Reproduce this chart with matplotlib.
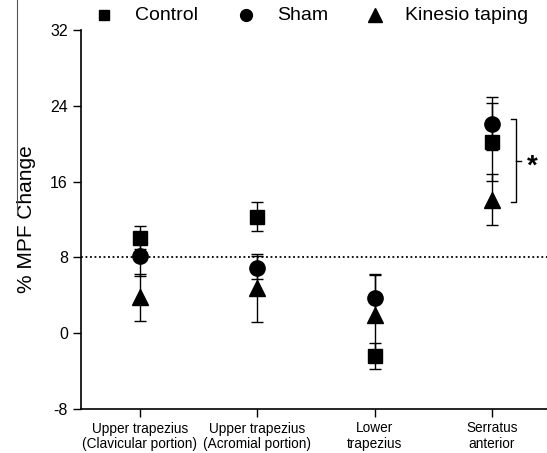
import matplotlib
matplotlib.use("Agg")
import matplotlib.pyplot as plt
from matplotlib.lines import Line2D
import numpy as np

plt.rcParams['font.family'] = ['Liberation Sans', 'DejaVu Sans']

categories = ["Upper trapezius\n(Clavicular portion)", "Upper trapezius\n(Acromial portion)",
              "Lower\ntrapezius", "Serratus\nanterior"]
groups = ["Control", "Sham", "Kinesio taping"]
control_mean = [10.1, 12.3, -2.4, 20.2]
control_sd = [1.2, 1.5, 1.4, 4.1]
sham_mean = [8.1, 6.9, 3.7, 22.1]
sham_sd = [2.1, 1.2, 2.5, 2.8]
kinesio_mean = [3.8, 4.8, 1.9, 14.1]
kinesio_sd = [2.5, 3.6, 4.2, 2.7]
yticks = [-8, 0, 8, 16, 24, 32]
ref_line = 8

W, H = 547, 453
fig = plt.figure(figsize=(W/100, H/100), dpi=100)
ax = fig.add_axes([81/W, 1-409/H, 1-81/W, (409-30)/H])

x = np.arange(len(categories))
series = [(control_mean, control_sd, 's', 10), (sham_mean, sham_sd, 'o', 11), (kinesio_mean, kinesio_sd, '^', 12)]
for (m, s, mk, ms), g in zip(series, groups):
    ax.errorbar(x, m, yerr=s, fmt=mk, color='black', ms=ms, ecolor='black',
                elinewidth=1, capsize=4, capthick=1, zorder=3, label=g)

ax.axhline(ref_line, color='black', linestyle=(0, (1, 1.5)), linewidth=1.3, zorder=1)

# significance bracket
bx0, bx1, bx2 = 3.166, 3.209, 3.251
ytop, ybot = 22.6, 13.8
ax.plot([bx0, bx1, bx1, bx0], [ytop, ytop, ybot, ybot], color='black', lw=1, clip_on=False)
ax.plot([bx1, bx2], [(ytop+ybot)/2]*2, color='black', lw=1, clip_on=False)
ax.text(3.345, (ytop+ybot)/2 - 0.6, "*", fontsize=20, ha='center', va='center', fontweight='bold')

ax.set_xlim(-0.502, 3.47)
ax.set_ylim(-8, 32)
ax.set_yticks(yticks)
ax.set_yticklabels([str(t) for t in yticks], fontsize=11.5)
ax.set_xticks(x)
ax.set_xticklabels(categories, fontsize=9.8, linespacing=1.1)
ax.tick_params(axis='both', direction='out', length=6, width=1, color='black')
ax.tick_params(axis='x', pad=3)
for sp in ['top', 'right']:
    ax.spines[sp].set_visible(False)
for sp in ['left', 'bottom']:
    ax.spines[sp].set_linewidth(1.2)
ax.set_ylabel("% MPF Change", fontsize=15, labelpad=10)

# legend (manual layout along the top)
leg_y = 1 - 15/H
leg_items = [('s', 7, 104, 135), ('o', 8.5, 246, 277), ('^', 9.5, 375, 405)]
for (mk, ms, mx, tx), g in zip(leg_items, groups):
    fig.add_artist(Line2D([mx/W], [leg_y], marker=mk, ms=ms, color='black', linestyle='none'))
    fig.text(tx/W, leg_y, g, fontsize=14, ha='left', va='center')

fig.add_artist(Line2D([16.5/W, 16.5/W], [1, 1-215/H], color='#555555', lw=0.8))

fig.savefig("out.png", dpi=100)
